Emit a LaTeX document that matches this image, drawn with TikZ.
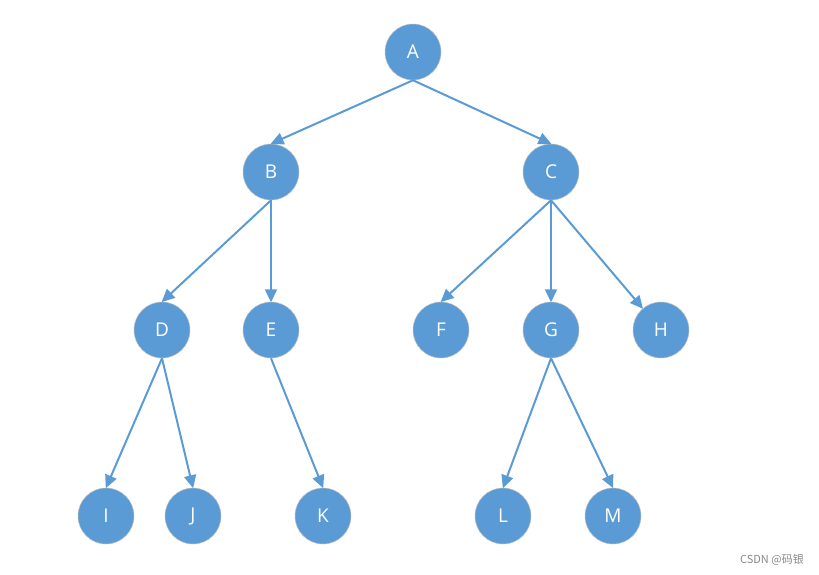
\documentclass[tikz,border=0pt]{standalone}
\usepackage{fontspec}
\setmainfont{Open Sans}
\newfontfamily\cjkfont{Noto Sans CJK SC}
\usetikzlibrary{arrows.meta}
\definecolor{nodeblue}{HTML}{5B9BD5}
\definecolor{edgeblue}{HTML}{5B9BD5}
\definecolor{wmgray}{HTML}{888888}
\tikzset{
  tnode/.style={circle, fill=nodeblue, draw=black!25, line width=0.5pt, minimum size=56pt, inner sep=0pt, text=white, font=\fontsize{19}{19}\selectfont},
  tedge/.style={draw=edgeblue, line width=2pt, -{Triangle[length=13pt,width=12pt]}, shorten >=-0.5pt}
}
\begin{document}
\begin{tikzpicture}[x=1pt,y=-1pt]
\useasboundingbox (0,0) rectangle (819,574);
\node[tnode] (A) at (413,52) {A};
\node[tnode] (B) at (271,172) {B};
\node[tnode] (C) at (551,172) {C};
\node[tnode] (D) at (162,330) {D};
\node[tnode] (E) at (271,330) {E};
\node[tnode] (F) at (441,330) {F};
\node[tnode] (G) at (551,330) {G};
\node[tnode] (H) at (661,330) {H};
\node[tnode] (I) at (106,516) {I};
\node[tnode] (J) at (193,516) {J};
\node[tnode] (K) at (323,516) {K};
\node[tnode] (L) at (503,516) {L};
\node[tnode] (M) at (613,516) {M};
\foreach \p/\c in {A/B,A/C,B/D,B/E,C/F,C/G,D/I,D/J,E/K,G/L,G/M}
  \draw[tedge] (\p.south) -- (\c.north);
\draw[tedge] (C.south) -- (H);
\node[anchor=base east, text=wmgray, font=\cjkfont\fontsize{11}{11}\selectfont, inner sep=0pt] (wm) at (804,563) {CSDN @码银};
\end{tikzpicture}
\end{document}
